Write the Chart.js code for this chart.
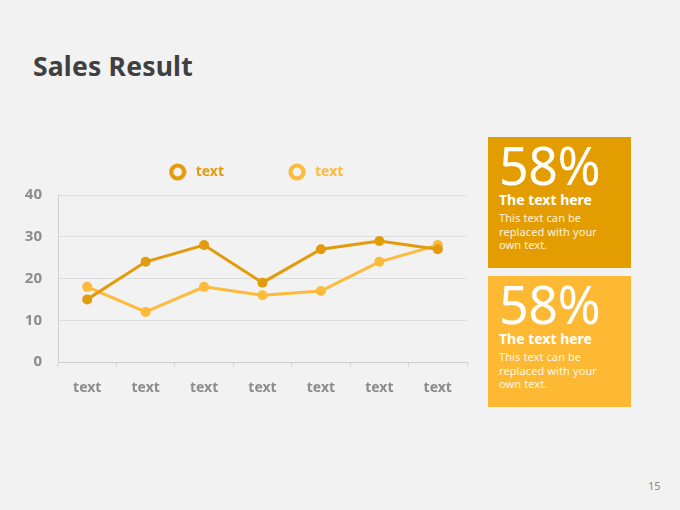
<!DOCTYPE html>
<html><head><meta charset="utf-8">
<script src="https://cdn.jsdelivr.net/npm/chart.js@4"></script>
<style>
html,body{margin:0;padding:0;background:#F1F2F1;width:680px;height:510px;overflow:hidden;font-family:"Noto Sans","Open Sans",sans-serif;}
#title{position:absolute;left:33px;top:48px;font-size:26.5px;font-weight:bold;color:#404040;letter-spacing:0.2px;}
#wrap{position:absolute;left:20px;top:150px;width:460px;height:260px;}
.box{position:absolute;left:488px;width:143px;height:131px;color:#fff;box-sizing:border-box;padding-left:11px;}
.big{font-size:52px;line-height:52px;margin-top:2px;letter-spacing:-0.5px;}
.sub{font-size:14px;line-height:17px;font-weight:bold;margin-top:0;}
.desc{font-size:11px;line-height:13.5px;margin-top:3px;opacity:0.88;letter-spacing:0.1px;}
#pg{position:absolute;left:648px;top:478px;font-size:11px;color:#8a8a8a;}
</style></head><body>
<div id="title">Sales Result</div>
<div id="wrap"><canvas id="c"></canvas></div>
<div class="box" style="top:137px;background:#E49D00;">
<div class="big">58%</div><div class="sub">The text here</div>
<div class="desc">This text can be<br>replaced with your<br>own text.</div></div>
<div class="box" style="top:276px;background:#FDB934;">
<div class="big">58%</div><div class="sub">The text here</div>
<div class="desc">This text can be<br>replaced with your<br>own text.</div></div>
<div id="pg">15</div>
<script>
const categories = ["text","text","text","text","text","text","text"];
const seriesNames = ["text","text"];
const series1 = [15,24,28,19,27,29,27];
const series2 = [18,12,18,16,17,24,28];
const yTicks = [0,10,20,30,40];
const colors = ["#E39B0B","#FDBA3B"];

function ring(color){
  const c = document.createElement('canvas');
  c.width = 18; c.height = 18;
  const x = c.getContext('2d');
  x.beginPath(); x.arc(9,9,6.5,0,Math.PI*2);
  x.fillStyle = '#F1F2F1'; x.fill();
  x.lineWidth = 4.2; x.strokeStyle = color; x.stroke();
  return c;
}
const rings = colors.map(ring);

const legendFix = {
  id:'legendFix',
  beforeInit(chart){
    const lg = chart.legend;
    const origFit = lg.fit;
    lg.fit = function(){ origFit.call(lg); lg.height = 45; };
    const origDraw = lg.draw;
    lg.draw = function(){
      const saved = {top:lg.top,bottom:lg.bottom,left:lg.left,right:lg.right};
      lg.top = saved.top - 47;
      lg.left = saved.left + 11.5;
      lg.right = saved.right + 11.5;
      origDraw.call(lg);
      Object.assign(lg, saved);
    };
  }
};

new Chart(document.getElementById('c'), {
  type:'line',
  data:{
    labels:categories,
    datasets:[
      {label:seriesNames[0],data:series1,borderColor:colors[0],backgroundColor:colors[0],pointBackgroundColor:colors[0],borderWidth:3,pointRadius:5,pointBorderWidth:0,tension:0},
      {label:seriesNames[1],data:series2,borderColor:colors[1],backgroundColor:colors[1],pointBackgroundColor:colors[1],borderWidth:3,pointRadius:5,pointBorderWidth:0,tension:0}
    ]
  },
  options:{
    responsive:true,maintainAspectRatio:false,animation:false,
    layout:{padding:{left:0,right:13,top:0,bottom:0}},
    plugins:{
      tooltip:{enabled:false},
      legend:{
        position:'top',
        labels:{
          usePointStyle:true,pointStyleWidth:22,boxHeight:14,padding:62,
          font:{family:'"Noto Sans","Open Sans",sans-serif',size:14,weight:'bold'},
          generateLabels(chart){
            return chart.data.datasets.map((d,i)=>({text:d.label,fillStyle:'#F1F2F1',strokeStyle:colors[i],lineWidth:0,pointStyle:rings[i],fontColor:colors[i],datasetIndex:i,hidden:false}));
          }
        }
      }
    },
    scales:{
      x:{
        offset:true,
        grid:{display:true,drawOnChartArea:false,drawTicks:true,tickLength:5,color:'#D5D5D5',offset:true},
        border:{color:'#CFCFCF',width:1},
        ticks:{color:'#8C8C8C',font:{family:'"Noto Sans","Open Sans",sans-serif',size:14,weight:'bold'},padding:13},
        afterFit(s){s.height=48;}
      },
      y:{
        min:0,max:40,
        afterBuildTicks(s){s.ticks=yTicks.map(v=>({value:v}));},
        grid:{color:'#DDDDDD',drawTicks:false,lineWidth:1},
        border:{color:'#CFCFCF',width:1},
        ticks:{color:'#8C8C8C',font:{family:'"Noto Sans","Open Sans",sans-serif',size:15,weight:'bold'},padding:16},
        afterFit(s){s.width=38;}
      }
    }
  },
  plugins:[legendFix]
});
</script>
</body></html>
